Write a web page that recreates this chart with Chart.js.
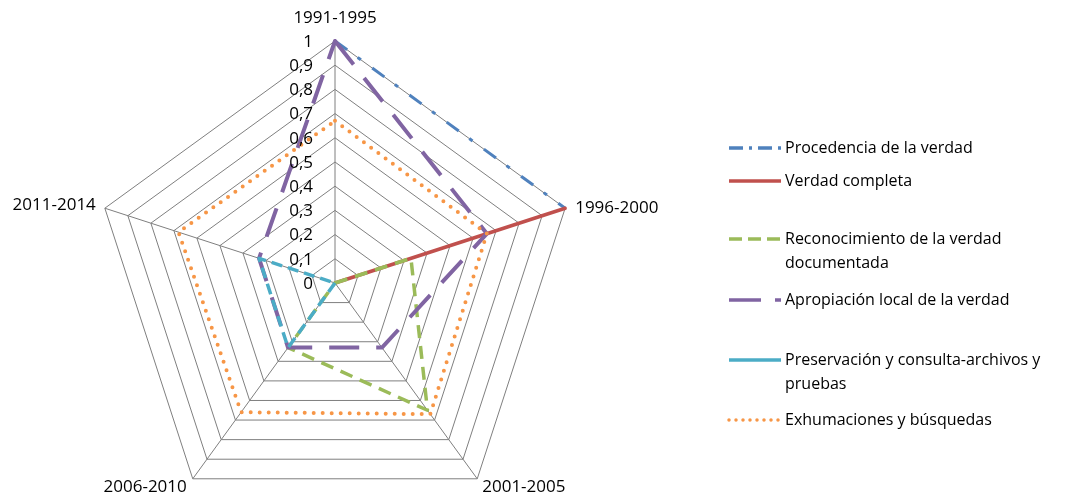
<!DOCTYPE html>
<html>
<head>
<meta charset="utf-8">
<script src="https://cdn.jsdelivr.net/npm/chart.js@4/dist/chart.umd.min.js"></script>
<style>
  body { margin: 0; background: #fff; overflow: hidden; font-family: "Open Sans", sans-serif; }
  #wrap { position: absolute; left: 0; top: 0; width: 1072px; height: 560px; }
  #leyenda { position: absolute; left: 0; top: 0; }
  .item { position: absolute; left: 727px; white-space: nowrap; font-size: 16px; line-height: 24px; color: #000; }
  .item svg { position: absolute; left: 0; top: 9px; }
  .item span { position: absolute; left: 58px; top: 0; }
</style>
</head>
<body>
<div id="wrap"><canvas id="miRadar" width="1072" height="560"></canvas></div>
<div id="leyenda"></div>
<script>
// Periodos (ejes del radar)
const periodos = ["1991-1995", "1996-2000", "2001-2005", "2006-2010", "2011-2014"];
const ticksEje = [0, 0.1, 0.2, 0.3, 0.4, 0.5, 0.6, 0.7, 0.8, 0.9, 1];

// Valores de cada serie
const procedencia = [1, 1, null, null, null];
const verdadCompleta = [0, 1, 0, 0, 0];
const reconocimiento = [0, 0.33, 0.65, 0.33, 0];
const apropiacion = [1, 0.66, 0.33, 0.33, 0.33];
const preservacion = [0, 0, 0, 0.33, 0.33];
const exhumaciones = [0.67, 0.66, 0.67, 0.66, 0.68];

const series = [
  { nombre: "Procedencia de la verdad", datos: procedencia, color: "#4F81BD", ancho: 3, dash: [15, 13, 4, 14], leyDash: "14 6 3 6", cap: "butt" },
  { nombre: "Verdad completa", datos: verdadCompleta, color: "#C0504D", ancho: 3.5, dash: [], leyDash: "", cap: "butt" },
  { nombre: "Reconocimiento de la verdad<br>documentada", datos: reconocimiento, color: "#9BBB59", ancho: 3.5, dash: [13, 8], leyDash: "13 6", cap: "butt" },
  { nombre: "Apropiación local de la verdad", datos: apropiacion, color: "#8064A2", ancho: 4, dash: [30, 17], leyDash: "32 14", cap: "butt" },
  { nombre: "Preservación y consulta-archivos y<br>pruebas", datos: preservacion, color: "#4BACC6", ancho: 3.5, dash: [11, 6], leyDash: "", cap: "butt" },
  { nombre: "Exhumaciones y búsquedas", datos: exhumaciones, color: "#F79646", ancho: 4, dash: [0, 9], leyDash: "0 7", cap: "round" },
];
const posLeyenda = [135, 168, 226, 287, 347, 407];

// Leyenda en HTML
var ley = document.getElementById("leyenda");
series.forEach(function (s, i) {
  var div = document.createElement("div");
  div.className = "item";
  div.style.top = posLeyenda[i] + "px";
  div.innerHTML =
    '<svg width="56" height="8"><line x1="2" y1="4" x2="54" y2="4" stroke="' + s.color +
    '" stroke-width="3.5" stroke-linecap="' + (s.cap === "round" ? "round" : "butt") +
    '" stroke-dasharray="' + s.leyDash + '"/></svg><span>' + s.nombre + "</span>";
  ley.appendChild(div);
});

// Etiquetas de los ejes y de los ticks dibujadas a mano
const desplaza = [
  { dx: 0, dy: -23, align: "center" },
  { dx: 10, dy: 0, align: "left" },
  { dx: 5, dy: 8, align: "left" },
  { dx: -6, dy: 8, align: "right" },
  { dx: -9, dy: -3, align: "right" },
];

const etiquetas = {
  id: "etiquetas",
  afterDraw: function (chart) {
    var ctx = chart.ctx;
    var r = chart.scales.r;
    ctx.save();
    ctx.fillStyle = "#000";
    ctx.font = '17px "Open Sans"';
    ctx.textBaseline = "middle";
    periodos.forEach(function (p, i) {
      var pt = r.getPointPositionForValue(i, 1);
      ctx.textAlign = desplaza[i].align;
      ctx.fillText(p, pt.x + desplaza[i].dx, pt.y + desplaza[i].dy);
    });
    ctx.textAlign = "right";
    ticksEje.forEach(function (v) {
      var pt = r.getPointPositionForValue(0, v);
      var txt = v === 0 || v === 1 ? String(v) : v.toFixed(1).replace(".", ",");
      ctx.fillText(txt, pt.x - 22, pt.y + 1);
    });
    ctx.restore();
  },
};

var ctx = document.getElementById("miRadar").getContext("2d");
var miRadar = new Chart(ctx, {
  type: "radar",
  data: {
    labels: periodos,
    datasets: series.map(function (s, i) {
      return {
        label: s.nombre,
        data: s.datos,
        borderColor: s.color,
        backgroundColor: s.color,
        borderWidth: s.ancho,
        borderDash: s.dash,
        borderCapStyle: s.cap,
        borderJoinStyle: "round",
        pointRadius: 0,
        fill: false,
        tension: 0,
        spanGaps: false,
        order: series.length - i,
      };
    }),
  },
  options: {
    responsive: false,
    animation: false,
    devicePixelRatio: 1,
    layout: { padding: { left: 93, right: 495, top: 41, bottom: 35 } },
    plugins: { legend: { display: false }, tooltip: { enabled: false } },
    scales: {
      r: {
        min: 0,
        max: 1,
        ticks: { stepSize: 0.1, display: false },
        grid: { color: "#7f7f7f", lineWidth: 1 },
        angleLines: { color: "#7f7f7f", lineWidth: 1 },
        pointLabels: { display: false },
      },
    },
  },
  plugins: [etiquetas],
});
</script>
</body>
</html>
